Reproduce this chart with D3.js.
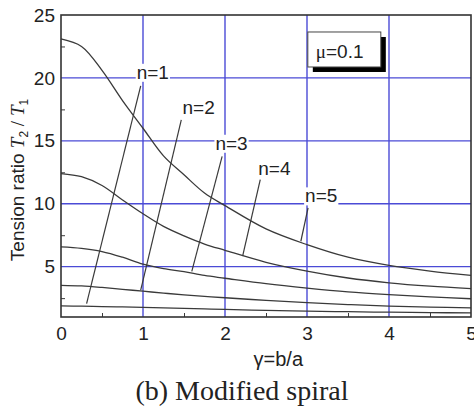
<!DOCTYPE html>
<html>
<head>
<meta charset="utf-8">
<script src="https://cdn.jsdelivr.net/npm/d3@7"></script>
<style>
  body { margin: 0; background: #fff; }
  text { font-family: "Liberation Sans", Arial, sans-serif; fill: #222; }
</style>
</head>
<body>
<div id="chart"></div>
<script>
// gamma = b/a sample points and tension ratio T2/T1
const gamma = [0, 0.25, 0.5, 0.75, 1, 1.25, 1.5, 1.75, 2, 2.5, 3, 3.5, 4, 4.5, 5];
const ratioN1 = [1.88, 1.86, 1.83, 1.8, 1.76, 1.72, 1.68, 1.64, 1.6, 1.53, 1.47, 1.42, 1.38, 1.35, 1.32];
const ratioN2 = [3.52, 3.47, 3.35, 3.2, 3.05, 2.9, 2.76, 2.64, 2.53, 2.32, 2.14, 1.99, 1.87, 1.79, 1.73];
const ratioN3 = [6.57, 6.45, 6.2, 5.75, 5.2, 4.85, 4.6, 4.3, 4.08, 3.65, 3.3, 3.0, 2.78, 2.6, 2.45];
const ratioN4 = [12.4, 12.15, 11.45, 10.3, 9.2, 8.2, 7.45, 6.8, 6.3, 5.35, 4.65, 4.1, 3.72, 3.45, 3.25];
const ratioN5 = [23.1, 22.5, 20.6, 18.2, 16.0, 13.8, 12.3, 10.85, 9.85, 8.0, 6.75, 5.75, 5.1, 4.65, 4.3];

const xTicks = [0, 1, 2, 3, 4, 5];
const yTicks = [5, 10, 15, 20, 25];

// label text, where it sits and where its leader line points (data units)
const labelNames = ["n=1", "n=2", "n=3", "n=4", "n=5"];
const labelAt = [[0.923, 19.93], [1.482, 17.15], [1.883, 14.29], [2.406, 12.31], [2.977, 10.11]];
const leaderFrom = [[0.972, 19.37], [1.467, 16.67], [1.965, 13.76], [2.43, 11.91], [3.013, 9.67]];
const leaderTo = [[0.312, 2.07], [0.972, 3.13], [1.595, 4.63], [2.215, 5.83], [2.925, 7.02]];

const series = [ratioN1, ratioN2, ratioN3, ratioN4, ratioN5];

const margin = { top: 15, right: 3, bottom: 94, left: 61 };
const width = 474 - margin.left - margin.right;
const height = 411 - margin.top - margin.bottom;

const x = d3.scaleLinear().domain([0, 5]).range([0, width]);
const y = d3.scaleLinear().domain([1, 25]).range([height, 0]);

const svg = d3
  .select("#chart")
  .append("svg")
  .attr("width", 474)
  .attr("height", 411);

const g = svg
  .append("g")
  .attr("transform", `translate(${margin.left},${margin.top})`);

const gridColor = "#4b4bd6";
const inkColor = "#3a3a3a";

// minor ticks pointing inward
g.append("g")
  .attr("transform", `translate(0,${height})`)
  .call(d3.axisBottom(x).tickValues(d3.range(0.5, 5, 1)).tickSize(-4).tickFormat(""))
  .call((a) => a.select(".domain").remove())
  .selectAll("line").attr("stroke", inkColor);

g.append("g")
  .call(d3.axisLeft(y).tickValues(d3.range(2.5, 25, 5)).tickSize(-4).tickFormat(""))
  .call((a) => a.select(".domain").remove())
  .selectAll("line").attr("stroke", inkColor);

// blue grid
g.append("g")
  .selectAll("line")
  .data(xTicks.filter((d) => d > 0 && d < 5))
  .join("line")
  .attr("x1", (d) => x(d))
  .attr("x2", (d) => x(d))
  .attr("y1", 0)
  .attr("y2", height)
  .attr("stroke", gridColor)
  .attr("stroke-width", 1.4);

g.append("g")
  .selectAll("line")
  .data(yTicks.filter((d) => d < 25))
  .join("line")
  .attr("x1", 0)
  .attr("x2", width)
  .attr("y1", (d) => y(d))
  .attr("y2", (d) => y(d))
  .attr("stroke", gridColor)
  .attr("stroke-width", 1.4);

// tick labels
const xAxis = g
  .append("g")
  .attr("transform", `translate(0,${height})`)
  .call(d3.axisBottom(x).tickValues(xTicks).tickSize(0).tickPadding(10).tickFormat(d3.format("d")));
xAxis.select(".domain").remove();
xAxis.selectAll("text").attr("font-size", 19).attr("font-family", null).attr("fill", "#222");

const yAxis = g
  .append("g")
  .call(d3.axisLeft(y).tickValues(yTicks).tickSize(0).tickPadding(6).tickFormat(d3.format("d")));
yAxis.select(".domain").remove();
yAxis.selectAll("text").attr("font-size", 19).attr("font-family", null).attr("fill", "#222");

// curves
const line = d3
  .line()
  .x((d, i) => x(gamma[i]))
  .y((d) => y(d))
  .curve(d3.curveCatmullRom.alpha(0.5));

g.append("g")
  .selectAll("path")
  .data(series)
  .join("path")
  .attr("d", line)
  .attr("fill", "none")
  .attr("stroke", inkColor)
  .attr("stroke-width", 1.3);

// leader lines
g.append("g")
  .selectAll("line")
  .data(labelNames)
  .join("line")
  .attr("x1", (d, i) => x(leaderFrom[i][0]))
  .attr("y1", (d, i) => y(leaderFrom[i][1]))
  .attr("x2", (d, i) => x(leaderTo[i][0]))
  .attr("y2", (d, i) => y(leaderTo[i][1]))
  .attr("stroke", inkColor)
  .attr("stroke-width", 1.2);

// n labels with white backing
const labels = g.append("g");
labelNames.forEach((name, i) => {
  const t = labels
    .append("text")
    .attr("x", x(labelAt[i][0]))
    .attr("y", y(labelAt[i][1]))
    .attr("font-size", 19)
    .text(name);
  const b = t.node().getBBox();
  labels
    .insert("rect", "text")
    .attr("x", b.x - 1)
    .attr("y", b.y + 2)
    .attr("width", b.width + 2)
    .attr("height", b.height - 3)
    .attr("fill", "#fff");
});

// frame
g.append("rect")
  .attr("width", width)
  .attr("height", height)
  .attr("fill", "none")
  .attr("stroke", "#333")
  .attr("stroke-width", 1.6);

// mu box with shadow
const box = g.append("g").attr("transform", `translate(${x(3.01)},${y(23.65)})`);
box.append("rect").attr("x", 5).attr("y", 5).attr("width", 73).attr("height", 35).attr("fill", "#000");
box.append("rect").attr("width", 73).attr("height", 35).attr("fill", "#fff").attr("stroke", "#444").attr("stroke-width", 1);
const mu = box.append("text").attr("x", 8).attr("y", 26).attr("font-size", 19);
mu.append("tspan").attr("font-family", "'Liberation Serif', serif").text("μ");
mu.append("tspan").text("=0.1");

// axis titles
svg
  .append("text")
  .attr("x", margin.left + x(2.65))
  .attr("y", 366)
  .attr("text-anchor", "middle")
  .attr("font-size", 20)
  .text("γ=b/a");

const yTitle = svg
  .append("text")
  .attr("transform", "translate(24,180) rotate(-90)")
  .attr("text-anchor", "middle")
  .attr("font-size", 19);
yTitle.append("tspan").text("Tension ratio ");
yTitle.append("tspan").attr("font-style", "italic").attr("font-family", "'Liberation Serif', serif").text("T");
yTitle.append("tspan").attr("font-size", 12).attr("dy", 4).text("2");
yTitle.append("tspan").attr("dy", -4).attr("font-family", "'Liberation Serif', serif").text(" / ");
yTitle.append("tspan").attr("font-style", "italic").attr("font-family", "'Liberation Serif', serif").text("T");
yTitle.append("tspan").attr("font-size", 12).attr("dy", 4).text("1");

svg
  .append("text")
  .attr("x", 242)
  .attr("y", 400)
  .attr("text-anchor", "middle")
  .attr("font-size", 28)
  .style("font-family", "'Liberation Serif', 'Times New Roman', serif")
  .text("(b) Modified spiral");
</script>
</body>
</html>
